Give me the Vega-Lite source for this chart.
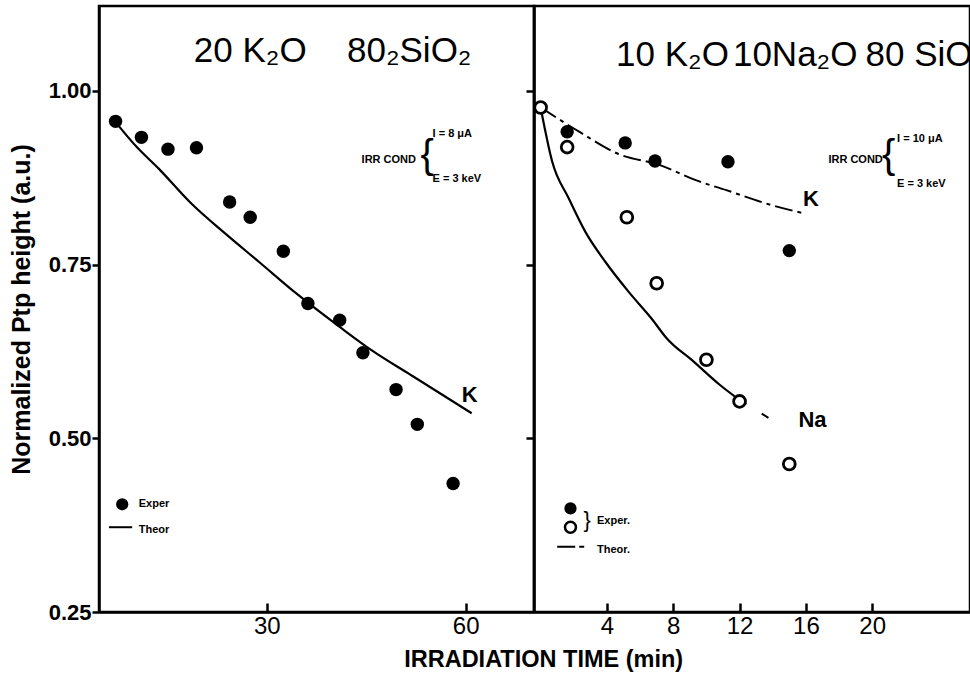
{
  "$schema": "https://vega.github.io/schema/vega-lite/v6.json",
  "background": "white",
  "padding": {"left": 7, "top": 4, "right": 0, "bottom": 4},
  "spacing": 0,
  "bounds": "flush",
  "config": {
    "font": "Liberation Sans",
    "view": {"stroke": "black", "strokeWidth": 2.5},
    "axis": {
      "grid": false,
      "domainColor": "black",
      "domainWidth": 2.5,
      "tickColor": "black",
      "tickWidth": 2.5,
      "labelColor": "black",
      "titleColor": "black",
      "labelFont": "Liberation Sans",
      "titleFont": "Liberation Sans"
    },
    "text": {"color": "black", "font": "Liberation Sans"}
  },
  "title": {
    "text": "IRRADIATION TIME (min)",
    "orient": "bottom",
    "anchor": "middle",
    "dx": 46,
    "offset": 9,
    "fontSize": 23.5,
    "fontWeight": "bold",
    "color": "black",
    "font": "Liberation Sans"
  },
  "datasets": {
    "k2o_exper": [
      {"t": 7.2, "h": 0.956}, {"t": 11.1, "h": 0.933}, {"t": 15.1, "h": 0.916},
      {"t": 19.4, "h": 0.918}, {"t": 24.4, "h": 0.84}, {"t": 27.5, "h": 0.818},
      {"t": 32.5, "h": 0.769}, {"t": 36.2, "h": 0.694}, {"t": 41.0, "h": 0.67},
      {"t": 44.5, "h": 0.623}, {"t": 49.5, "h": 0.57}, {"t": 52.7, "h": 0.52},
      {"t": 58.1, "h": 0.435}
    ],
    "k2o_theor": [
      {"t": 7.2, "h": 0.955}, {"t": 10.4, "h": 0.919}, {"t": 13.7, "h": 0.888},
      {"t": 18.7, "h": 0.837}, {"t": 23.8, "h": 0.794}, {"t": 28.8, "h": 0.754},
      {"t": 34.5, "h": 0.708}, {"t": 41.3, "h": 0.658}, {"t": 45.9, "h": 0.626},
      {"t": 51.9, "h": 0.59}, {"t": 60.9, "h": 0.536}
    ],
    "mixed_exper": [
      {"ion": "K", "t": 1.6, "h": 0.941}, {"ion": "K", "t": 5.1, "h": 0.925},
      {"ion": "K", "t": 6.9, "h": 0.899}, {"ion": "K", "t": 11.3, "h": 0.898},
      {"ion": "K", "t": 15.0, "h": 0.77},
      {"ion": "Na", "t": 0.0, "h": 0.976}, {"ion": "Na", "t": 1.6, "h": 0.919},
      {"ion": "Na", "t": 5.2, "h": 0.818}, {"ion": "Na", "t": 7.0, "h": 0.723},
      {"ion": "Na", "t": 10.0, "h": 0.613}, {"ion": "Na", "t": 12.0, "h": 0.553},
      {"ion": "Na", "t": 15.0, "h": 0.463}
    ],
    "mixed_theor": [
      {"ion": "K", "part": "fit", "t": 0.0, "h": 0.976}, {"ion": "K", "part": "fit", "t": 2.4, "h": 0.94},
      {"ion": "K", "part": "fit", "t": 4.7, "h": 0.909}, {"ion": "K", "part": "fit", "t": 7.2, "h": 0.893},
      {"ion": "K", "part": "fit", "t": 9.4, "h": 0.871}, {"ion": "K", "part": "fit", "t": 11.2, "h": 0.857},
      {"ion": "K", "part": "fit", "t": 14.0, "h": 0.835}, {"ion": "K", "part": "fit", "t": 16.0, "h": 0.823},
      {"ion": "Na", "part": "fit", "t": 0.0, "h": 0.976}, {"ion": "Na", "part": "fit", "t": 0.7, "h": 0.898},
      {"ion": "Na", "part": "fit", "t": 1.7, "h": 0.845}, {"ion": "Na", "part": "fit", "t": 2.7, "h": 0.797},
      {"ion": "Na", "part": "fit", "t": 3.9, "h": 0.754}, {"ion": "Na", "part": "fit", "t": 5.3, "h": 0.711},
      {"ion": "Na", "part": "fit", "t": 6.7, "h": 0.672}, {"ion": "Na", "part": "fit", "t": 7.6, "h": 0.644},
      {"ion": "Na", "part": "fit", "t": 9.2, "h": 0.611}, {"ion": "Na", "part": "fit", "t": 10.8, "h": 0.577},
      {"ion": "Na", "part": "fit", "t": 12.0, "h": 0.555},
      {"ion": "Na", "part": "extension", "t": 12.0, "h": 0.555}, {"ion": "Na", "part": "extension", "t": 14.1, "h": 0.524}
    ],
    "left_top_ticks": [{"t": 30}, {"t": 60}],
    "right_top_ticks": [{"t": 4}, {"t": 8}, {"t": 12}, {"t": 16}, {"t": 20}],
    "left_text": [
      {"kind": "title", "t": 19.0, "h": 1.042, "text": "20 K₂O"},
      {"kind": "title", "t": 42.1, "h": 1.042, "text": "80₂SiO₂"},
      {"kind": "curve", "t": 60.6, "h": 0.562, "text": "K"},
      {"kind": "cond", "t": 48.4, "h": 0.9, "text": "IRR COND"},
      {"kind": "brace", "t": 54.2, "h": 0.906, "text": "{"},
      {"kind": "note", "t": 55.0, "h": 0.938, "text": "I = 8 μA"},
      {"kind": "note", "t": 55.0, "h": 0.873, "text": "E = 3 keV"},
      {"kind": "note", "t": 10.7, "h": 0.405, "text": "Exper"},
      {"kind": "note", "t": 10.7, "h": 0.368, "text": "Theor"}
    ],
    "right_text": [
      {"kind": "title", "t": 4.55, "h": 1.036, "text": "10 K₂O"},
      {"kind": "title", "t": 11.6, "h": 1.036, "text": "10Na₂O"},
      {"kind": "title", "t": 19.6, "h": 1.036, "text": "80 SiO₂"},
      {"kind": "curve", "t": 16.3, "h": 0.845, "text": "K"},
      {"kind": "curve", "t": 16.4, "h": 0.526, "text": "Na"},
      {"kind": "cond", "t": 19.0, "h": 0.9, "text": "IRR COND"},
      {"kind": "brace", "t": 21.0, "h": 0.906, "text": "{"},
      {"kind": "note", "t": 21.5, "h": 0.931, "text": "I = 10 μA"},
      {"kind": "note", "t": 21.5, "h": 0.866, "text": "E = 3 keV"},
      {"kind": "legbrace", "t": 2.8, "h": 0.383, "text": "}"},
      {"kind": "note", "t": 3.4, "h": 0.381, "text": "Exper."},
      {"kind": "note", "t": 3.4, "h": 0.339, "text": "Theor."}
    ],
    "left_key": [
      {"kind": "exper", "t": 8.2, "h": 0.405},
      {"kind": "theor", "t": 6.2, "h": 0.372},
      {"kind": "theor", "t": 9.7, "h": 0.372}
    ],
    "right_key": [
      {"kind": "exper K", "t": 1.8, "h": 0.399},
      {"kind": "exper Na", "t": 1.8, "h": 0.372},
      {"kind": "theor", "t": 1.0, "h": 0.344},
      {"kind": "theor", "t": 2.7, "h": 0.344}
    ]
  },
  "hconcat": [
    {
      "width": 435,
      "height": 606,
      "encoding": {
        "x": {
          "field": "t", "type": "quantitative",
          "scale": {"domain": [4.7, 70.3], "nice": false, "zero": false},
          "axis": {"orient": "bottom", "values": [30, 60], "title": null, "tickSize": -9, "labelFontSize": 24, "labelPadding": 11}
        },
        "y": {
          "field": "h", "type": "quantitative",
          "scale": {"domain": [0.25, 1.122], "nice": false, "zero": false},
          "axis": {
            "values": [0.25, 0.5, 0.75, 1.0], "format": ".2f",
            "title": "Normalized Ptp height (a.u.)",
            "titleFontSize": 25, "titleFontWeight": "bold", "titlePadding": 14,
            "labelFontSize": 22, "labelFontWeight": "bold", "labelPadding": 1, "tickSize": 7
          }
        }
      },
      "layer": [
        {
          "data": {"name": "left_top_ticks"},
          "mark": {"type": "rule", "color": "black", "strokeWidth": 3, "opacity": 1},
          "encoding": {
            "y": {"datum": 1.122, "type": "quantitative"},
            "y2": {"datum": 1.1}
          }
        },
        {
          "data": {"name": "k2o_theor"},
          "mark": {"type": "line", "color": "black", "strokeWidth": 2.2, "interpolate": "monotone"}
        },
        {
          "data": {"name": "k2o_exper"},
          "mark": {"type": "point", "shape": "circle", "filled": true, "color": "black", "size": 180, "opacity": 1}
        },
        {
          "data": {"name": "left_key"},
          "transform": [{"filter": "datum.kind === 'exper'"}],
          "mark": {"type": "point", "shape": "circle", "filled": true, "color": "black", "size": 150, "opacity": 1}
        },
        {
          "data": {"name": "left_key"},
          "transform": [{"filter": "datum.kind === 'theor'"}],
          "mark": {"type": "line", "color": "black", "strokeWidth": 2}
        },
        {
          "data": {"name": "left_text"},
          "transform": [{"filter": "datum.kind === 'title'"}],
          "mark": {"type": "text", "fontSize": 35, "align": "left", "baseline": "alphabetic"},
          "encoding": {"text": {"field": "text"}}
        },
        {
          "data": {"name": "left_text"},
          "transform": [{"filter": "datum.kind === 'curve'"}],
          "mark": {"type": "text", "fontSize": 22, "fontWeight": "bold", "align": "center", "baseline": "middle"},
          "encoding": {"text": {"field": "text"}}
        },
        {
          "data": {"name": "left_text"},
          "transform": [{"filter": "datum.kind === 'cond'"}],
          "mark": {"type": "text", "fontSize": 11, "fontWeight": "bold", "align": "center", "baseline": "middle"},
          "encoding": {"text": {"field": "text"}}
        },
        {
          "data": {"name": "left_text"},
          "transform": [{"filter": "datum.kind === 'note'"}],
          "mark": {"type": "text", "fontSize": 11, "fontWeight": "bold", "align": "left", "baseline": "middle"},
          "encoding": {"text": {"field": "text"}}
        },
        {
          "data": {"name": "left_text"},
          "transform": [{"filter": "datum.kind === 'brace'"}],
          "mark": {"type": "text", "fontSize": 40, "fontWeight": "normal", "align": "center", "baseline": "middle"},
          "encoding": {"text": {"field": "text"}}
        }
      ]
    },
    {
      "width": 436,
      "height": 606,
      "encoding": {
        "x": {
          "field": "t", "type": "quantitative",
          "scale": {"domain": [-0.4, 25.9], "nice": false, "zero": false},
          "axis": {"orient": "bottom", "values": [4, 8, 12, 16, 20], "title": null, "tickSize": -9, "labelFontSize": 24, "labelPadding": 11}
        },
        "y": {
          "field": "h", "type": "quantitative",
          "scale": {"domain": [0.25, 1.122], "nice": false, "zero": false},
          "axis": {"values": [0.5, 0.75, 1.0], "labels": false, "title": null, "tickSize": 8}
        }
      },
      "layer": [
        {
          "data": {"name": "right_top_ticks"},
          "mark": {"type": "rule", "color": "black", "strokeWidth": 3, "opacity": 1},
          "encoding": {
            "y": {"datum": 1.122, "type": "quantitative"},
            "y2": {"datum": 1.104}
          }
        },
        {
          "data": {"name": "mixed_theor"},
          "transform": [{"filter": "datum.ion === 'K'"}],
          "mark": {"type": "line", "color": "black", "strokeWidth": 2, "strokeDash": [18, 5, 4, 5], "interpolate": "monotone"}
        },
        {
          "data": {"name": "mixed_theor"},
          "transform": [{"filter": "datum.ion === 'Na' && datum.part === 'fit'"}],
          "mark": {"type": "line", "color": "black", "strokeWidth": 2.2, "interpolate": "monotone"}
        },
        {
          "data": {"name": "mixed_theor"},
          "transform": [{"filter": "datum.ion === 'Na' && datum.part === 'extension'"}],
          "mark": {"type": "line", "color": "black", "strokeWidth": 2, "strokeDash": [8, 18]}
        },
        {
          "data": {"name": "mixed_exper"},
          "transform": [{"filter": "datum.ion === 'K'"}],
          "mark": {"type": "point", "shape": "circle", "filled": true, "color": "black", "size": 180, "opacity": 1}
        },
        {
          "data": {"name": "mixed_exper"},
          "transform": [{"filter": "datum.ion === 'Na'"}],
          "mark": {"type": "point", "shape": "circle", "filled": true, "fill": "white", "stroke": "black", "strokeWidth": 2.8, "size": 140, "opacity": 1}
        },
        {
          "data": {"name": "right_key"},
          "transform": [{"filter": "datum.kind === 'exper K'"}],
          "mark": {"type": "point", "shape": "circle", "filled": true, "color": "black", "size": 150, "opacity": 1}
        },
        {
          "data": {"name": "right_key"},
          "transform": [{"filter": "datum.kind === 'exper Na'"}],
          "mark": {"type": "point", "shape": "circle", "filled": true, "fill": "white", "stroke": "black", "strokeWidth": 2.5, "size": 120, "opacity": 1}
        },
        {
          "data": {"name": "right_key"},
          "transform": [{"filter": "datum.kind === 'theor'"}],
          "mark": {"type": "line", "color": "black", "strokeWidth": 2, "strokeDash": [18, 4, 5, 100]}
        },
        {
          "data": {"name": "right_text"},
          "transform": [{"filter": "datum.kind === 'title'"}],
          "mark": {"type": "text", "fontSize": 35, "align": "left", "baseline": "alphabetic"},
          "encoding": {"text": {"field": "text"}}
        },
        {
          "data": {"name": "right_text"},
          "transform": [{"filter": "datum.kind === 'curve'"}],
          "mark": {"type": "text", "fontSize": 22, "fontWeight": "bold", "align": "center", "baseline": "middle"},
          "encoding": {"text": {"field": "text"}}
        },
        {
          "data": {"name": "right_text"},
          "transform": [{"filter": "datum.kind === 'cond'"}],
          "mark": {"type": "text", "fontSize": 11, "fontWeight": "bold", "align": "center", "baseline": "middle"},
          "encoding": {"text": {"field": "text"}}
        },
        {
          "data": {"name": "right_text"},
          "transform": [{"filter": "datum.kind === 'note'"}],
          "mark": {"type": "text", "fontSize": 11, "fontWeight": "bold", "align": "left", "baseline": "middle"},
          "encoding": {"text": {"field": "text"}}
        },
        {
          "data": {"name": "right_text"},
          "transform": [{"filter": "datum.kind === 'brace'"}],
          "mark": {"type": "text", "fontSize": 40, "fontWeight": "normal", "align": "center", "baseline": "middle"},
          "encoding": {"text": {"field": "text"}}
        },
        {
          "data": {"name": "right_text"},
          "transform": [{"filter": "datum.kind === 'legbrace'"}],
          "mark": {"type": "text", "fontSize": 22, "fontWeight": "normal", "align": "center", "baseline": "middle"},
          "encoding": {"text": {"field": "text"}}
        }
      ]
    }
  ]
}
